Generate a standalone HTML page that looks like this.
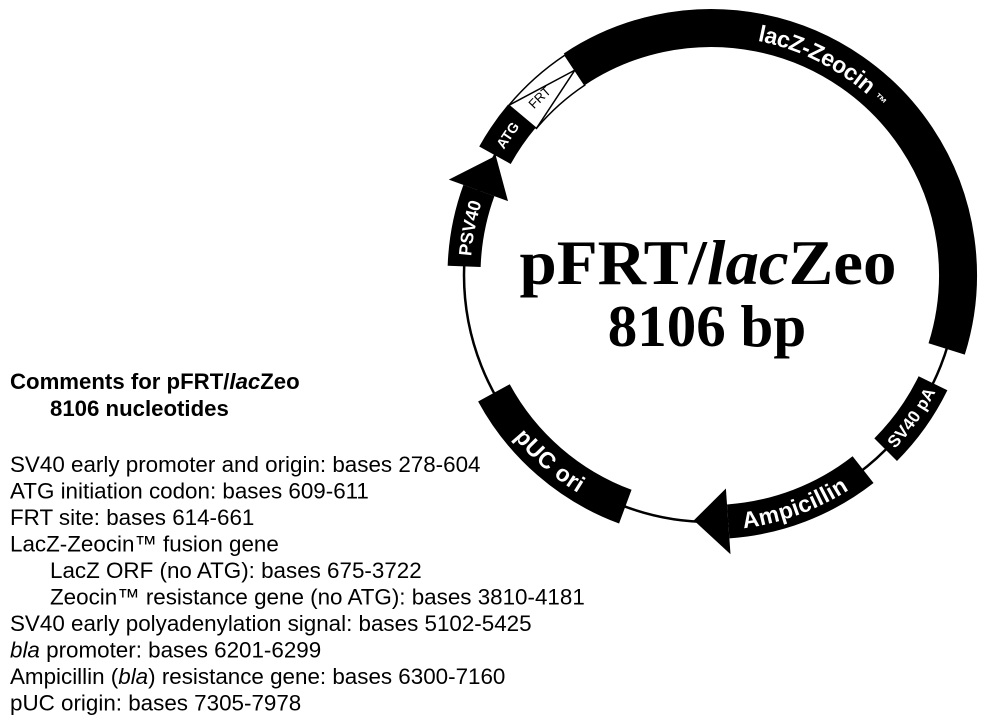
<!DOCTYPE html>
<html><head><meta charset="utf-8"><style>
html,body{margin:0;padding:0;background:#fff;width:983px;height:723px;overflow:hidden}
</style></head><body>
<svg width="983" height="723" viewBox="0 0 983 723" xmlns="http://www.w3.org/2000/svg">
<defs>
<path id="cw" d="M 464,275 A 247 247 0 1 1 958,275 A 247 247 0 1 1 464,275"/>
<path id="ccw" d="M 464,275 A 247 247 0 1 0 958,275 A 247 247 0 1 0 464,275"/>
</defs>
<circle cx="711" cy="275" r="247" fill="none" stroke="#000" stroke-width="2.5"/>
<g fill="none" stroke="#000">
<circle cx="711" cy="275" r="247" stroke-width="33" stroke-dasharray="77.6 2000" transform="rotate(-178 711 275)"/>
<circle cx="711" cy="275" r="247" stroke-width="36" stroke-dasharray="47.4 2000" transform="rotate(-151 711 275)"/>
<circle cx="711" cy="275" r="247" stroke-width="38" stroke-dasharray="607.9 2000" transform="rotate(-123.6 711 275)"/>
<circle cx="711" cy="275" r="247" stroke-width="32" stroke-dasharray="81.9 2000" transform="rotate(26 711 275)"/>
<circle cx="711" cy="275" r="247" stroke-width="34" stroke-dasharray="146.6 2000" transform="rotate(52 711 275)"/>
<circle cx="711" cy="275" r="247" stroke-width="36" stroke-dasharray="177.6 2000" transform="rotate(110.3 711 275)"/>
</g>
<polygon points="448.8,179.6 495.8,155.7 508,201.1" fill="#000"/>
<polygon points="730.5,554.3 693.8,520.4 725.9,488.5" fill="#000"/>
<path d="M 508.8,105.3 A 264 264 0 0 1 564.9,55.1 L 584.8,85.1 A 228 228 0 0 0 536.4,128.4 Z" fill="#fff" stroke="#000" stroke-width="1.5"/>
<line x1="508.8" y1="105.3" x2="574.9" y2="70.1" stroke="#000" stroke-width="1.5"/>
<line x1="536.4" y1="128.4" x2="574.9" y2="70.1" stroke="#000" stroke-width="1.5"/>
<g font-family="Liberation Sans, Arial, sans-serif" font-weight="bold" fill="#fff" text-anchor="middle">
<text font-size="18" dy="0.36em"><textPath href="#cw" startOffset="47.4">PSV40</textPath></text>
<text font-size="14" dy="0.36em"><textPath href="#cw" startOffset="148.7">ATG</textPath></text>
<text font-size="13" dy="0.36em" font-weight="normal" fill="#000"><textPath href="#cw" startOffset="198.3">FRT</textPath></text>
<text font-size="23" dy="0.36em"><textPath href="#cw" startOffset="510">lacZ-Zeocin <tspan font-size="13">™</tspan></textPath></text>
<text font-size="23" dy="0.36em"><textPath href="#ccw" startOffset="211.2">pUC ori</textPath></text>
<text font-size="23" dy="0.36em"><textPath href="#ccw" startOffset="474.2">Ampicillin</textPath></text>
<text font-size="17" dy="0.36em"><textPath href="#ccw" startOffset="623">SV40 pA</textPath></text>
</g>
<g font-family="Liberation Serif, 'Times New Roman', serif" font-weight="bold" text-anchor="middle" fill="#000">
<text x="708" y="284" font-size="64" textLength="377" lengthAdjust="spacingAndGlyphs">pFRT/<tspan font-style="italic">lac</tspan>Zeo</text>
<text x="707" y="346" font-size="59">8106 bp</text>
</g>
<g font-family="Liberation Sans, Arial, sans-serif" fill="#000">
<text x="10" y="389" font-size="22.2" font-weight="bold">Comments for pFRT/<tspan font-style="italic">lac</tspan>Zeo</text>
<text x="50" y="416" font-size="22.2" font-weight="bold">8106 nucleotides</text>
<g font-size="22.4">
<text x="10" y="472">SV40 early promoter and origin: bases 278-604</text>
<text x="10" y="498.5">ATG initiation codon: bases 609-611</text>
<text x="10" y="525">FRT site: bases 614-661</text>
<text x="10" y="551.5">LacZ-Zeocin™ fusion gene</text>
<text x="50" y="578">LacZ ORF (no ATG): bases 675-3722</text>
<text x="50" y="604.5">Zeocin™ resistance gene (no ATG): bases 3810-4181</text>
<text x="10" y="631">SV40 early polyadenylation signal: bases 5102-5425</text>
<text x="10" y="657.5"><tspan font-style="italic">bla</tspan> promoter: bases 6201-6299</text>
<text x="10" y="684">Ampicillin (<tspan font-style="italic">bla</tspan>) resistance gene: bases 6300-7160</text>
<text x="10" y="710.5">pUC origin: bases 7305-7978</text>
</g>
</g>
</svg>
</body></html>
